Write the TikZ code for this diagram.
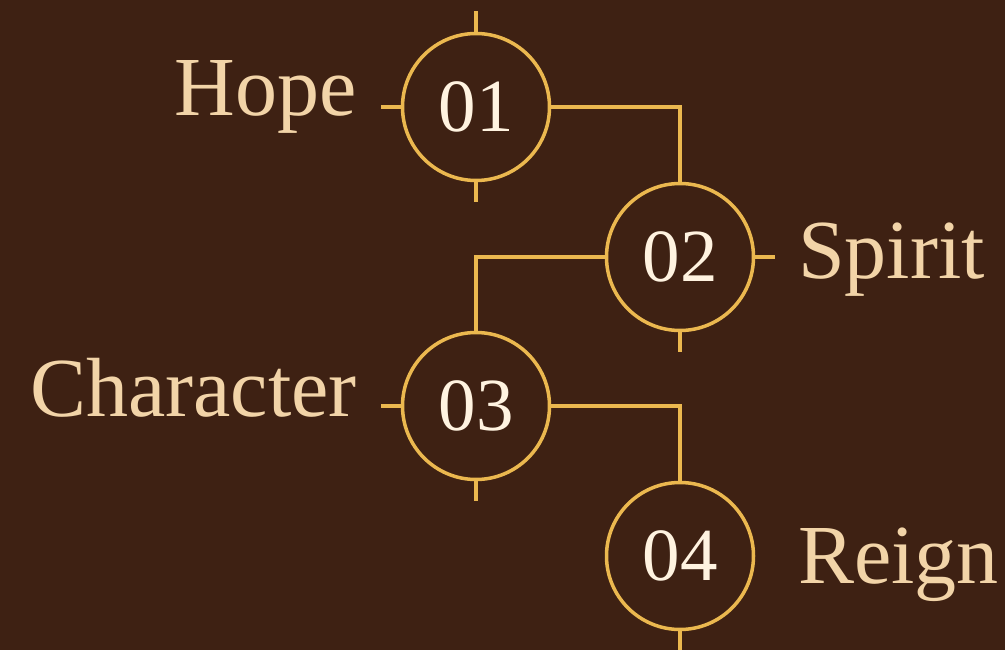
\documentclass[tikz,border=0pt]{standalone}
\usepackage{fontspec}
\setmainfont{Liberation Serif}
\usetikzlibrary{positioning}
\definecolor{cocoa}{HTML}{3E2113}
\definecolor{goldline}{HTML}{EBB84F}
\definecolor{sandtext}{HTML}{F2D4A8}
\definecolor{creamnum}{HTML}{FFF3E0}

\begin{document}
\begin{tikzpicture}[
        x=1pt, y=-1pt,
        stage/.style={circle, draw=goldline, line width=3.5pt,
          minimum size=147pt, inner sep=0pt,
          text=creamnum, font=\fontsize{75}{75}\selectfont},
        word/.style={text=sandtext, inner sep=0pt,
          font=\fontsize{84}{84}\selectfont},
        link/.style={draw=goldline, line width=3.5pt},
        tick/.style={draw=goldline, line width=3.5pt},
      ]
        \useasboundingbox[fill=cocoa] (0,0) rectangle (1005,650);

        \node[stage] (s1) at (476,107) {01};
        \node[stage] (s2) at (680,257) {02};
        \node[stage] (s3) at (476,406) {03};
        \node[stage] (s4) at (680,556) {04};

        \node[word, anchor=base east] (hope) at (357,116) {Hope};
        \node[word, anchor=base west] (spirit) at (798,278) {Spirit};
        \node[word, anchor=base east] (character) at (357,416) {Character};
        \node[word, anchor=base west] (reign) at (798,583) {Reign};

        \draw[link] (s1.east) -| (s2.north);
        \draw[link] (s2.west) -| (s3.north);
        \draw[link] (s3.east) -| (s4.north);

        \draw[tick] (s1.north) -- ++(0,-21);
        \draw[tick] (s1.west) -- ++(-20,0);
        \draw[tick] (s1.south) -- ++(0,20);
        \draw[tick] (s2.east) -- ++(20,0);
        \draw[tick] (s2.south) -- ++(0,20);
        \draw[tick] (s3.west) -- ++(-20,0);
        \draw[tick] (s3.south) -- ++(0,20);
        \draw[tick] (s4.south) -- ++(0,22);
      \end{tikzpicture}
\end{document}
